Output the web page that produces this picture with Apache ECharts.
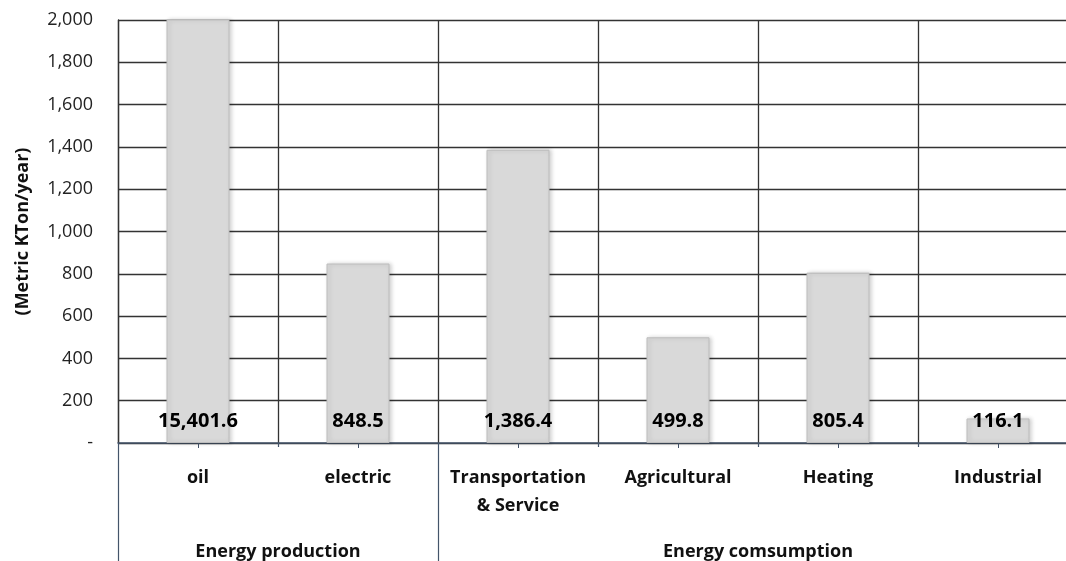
<!DOCTYPE html>
<html>
<head>
<meta charset="utf-8">
<script src="https://cdn.jsdelivr.net/npm/echarts@6/dist/echarts.min.js"></script>
<style>
  html, body { margin: 0; padding: 0; background: #fff; overflow: hidden; }
  /* the plot runs a little past the right edge of the page */
  #chart { width: 1078px; height: 561px; }
</style>
</head>
<body>
<div id="chart"></div>
<script>
// Emission categories and their values (Metric KTon/year)
const categories = ['oil', 'electric', 'Transportation\n& Service', 'Agricultural', 'Heating', 'Industrial'];
const values = [15401.6, 848.5, 1386.4, 499.8, 805.4, 116.1];

// Sector groups, each spanning a run of consecutive categories
const groupNames = ['Energy production', 'Energy comsumption'];
const groupSizes = [2, 4];

// Value axis range and step
const yMin = 0;
const yMax = 2000;
const yStep = 200;

// Group boundaries and centres, in category units
const boundaries = [0];
groupSizes.forEach(function (n) { boundaries.push(boundaries[boundaries.length - 1] + n); });
const groupCentres = groupSizes.map(function (n, i) { return boundaries[i] + n / 2; });
const innerBoundaries = [];
for (let i = 1; i < categories.length; i++) {
  if (boundaries.indexOf(i) < 0) innerBoundaries.push(i);
}

const FONT = 'Open Sans';
const fmt = function (v) {
  return v.toLocaleString('en-US', { minimumFractionDigits: 1, maximumFractionDigits: 1 });
};

const chart = echarts.init(document.getElementById('chart'), null, { renderer: 'canvas' });

chart.setOption({
  animation: false,
  backgroundColor: '#ffffff',
  textStyle: { fontFamily: FONT },
  grid: { left: 118, top: 20, bottom: 118, right: 0, containLabel: false },
  xAxis: [
    {
      type: 'category',
      data: categories,
      boundaryGap: true,
      axisLine: { show: true, lineStyle: { color: '#44546a', width: 1.5 } },
      axisTick: { show: true, alignWithLabel: true, length: 5, lineStyle: { color: '#44546a' } },
      axisLabel: {
        interval: 0,
        margin: 21,
        fontFamily: FONT,
        fontSize: 18,
        fontWeight: 'bold',
        color: '#111',
        lineHeight: 28
      },
      splitLine: { show: true, interval: 0, lineStyle: { color: '#333', width: 1.3 } }
    },
    {
      // group separators and group names under the category labels
      type: 'value',
      position: 'bottom',
      min: 0,
      max: categories.length,
      axisLine: { show: false },
      axisTick: {
        show: true,
        customValues: boundaries,
        length: 118,
        lineStyle: { color: '#44546a', width: 1.2 }
      },
      axisLabel: {
        customValues: groupCentres,
        margin: 100,
        fontFamily: FONT,
        fontSize: 18,
        fontWeight: 'bold',
        color: '#111',
        formatter: function (v) {
          const i = groupCentres.indexOf(v);
          return i >= 0 ? groupNames[i] : '';
        }
      },
      splitLine: { show: false }
    },
    {
      // short ticks at the remaining category boundaries
      type: 'value',
      position: 'bottom',
      min: 0,
      max: categories.length,
      axisLine: { show: false },
      axisTick: {
        show: true,
        customValues: innerBoundaries,
        length: 4,
        lineStyle: { color: '#44546a', width: 1.2 }
      },
      axisLabel: { show: false },
      splitLine: { show: false }
    }
  ],
  yAxis: {
    type: 'value',
    min: yMin,
    max: yMax,
    interval: yStep,
    name: '(Metric KTon/year)',
    nameLocation: 'middle',
    nameGap: 86,
    nameRotate: 90,
    nameTextStyle: { fontFamily: FONT, fontSize: 18, fontWeight: 'bold', color: '#111' },
    axisLine: { show: true, lineStyle: { color: '#333', width: 1.3 } },
    axisTick: { show: false },
    axisLabel: {
      margin: 25,
      fontFamily: FONT,
      fontSize: 18,
      color: '#222',
      formatter: function (v) { return v === 0 ? '-' : v.toLocaleString('en-US'); }
    },
    splitLine: { show: true, lineStyle: { color: '#333', width: 1.3 } }
  },
  series: [
    {
      type: 'bar',
      xAxisIndex: 0,
      data: values,
      barWidth: 63,
      clip: true,
      itemStyle: {
        color: '#d9d9d9',
        borderColor: '#bdbdbd',
        borderWidth: 1,
        shadowBlur: 4,
        shadowOffsetX: 2,
        shadowColor: 'rgba(0,0,0,0.18)'
      },
      label: {
        show: true,
        position: 'insideBottom',
        distance: 12,
        fontFamily: FONT,
        fontSize: 20,
        fontWeight: 'bold',
        color: '#000',
        formatter: function (p) { return fmt(p.value); }
      }
    }
  ]
});
</script>
</body>
</html>
